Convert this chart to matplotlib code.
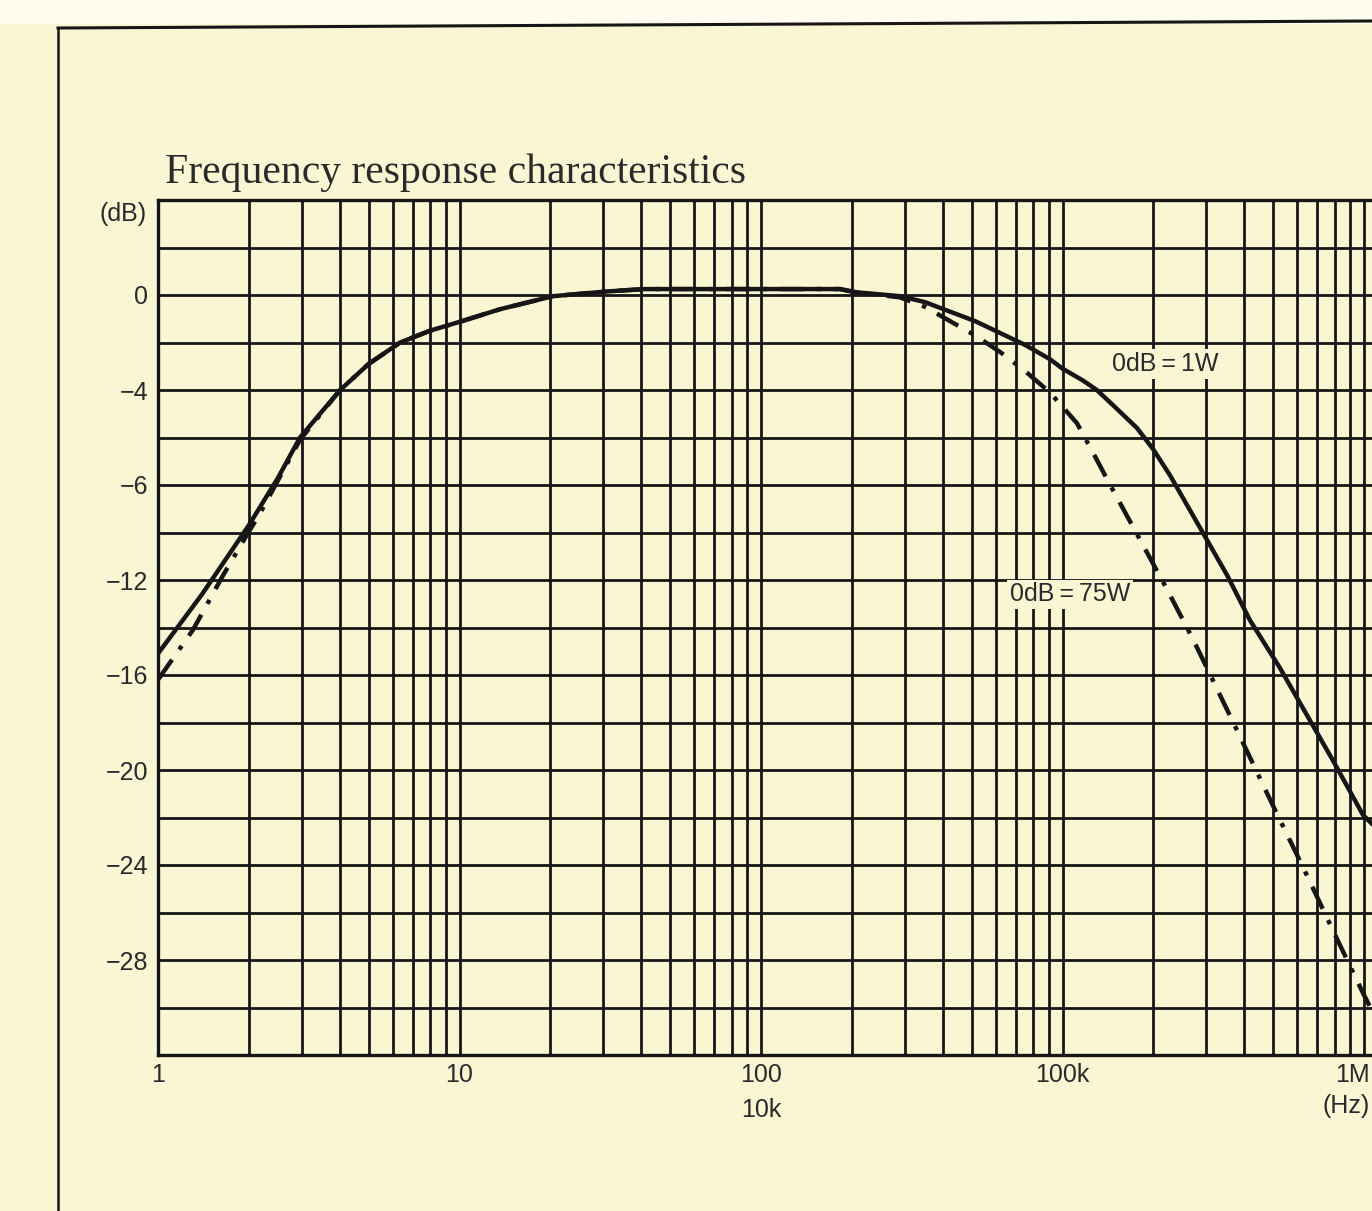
import numpy as np
import matplotlib
matplotlib.use("Agg")
import matplotlib.pyplot as plt
import matplotlib.transforms as mtransforms
from matplotlib.ticker import LogLocator, NullFormatter, FixedLocator
from matplotlib.lines import Line2D
from matplotlib.patches import Rectangle

# ---- data (x = position on the printed log scale: 1 ... 10^4, where 100 = 10k, 1000 = 100k, 10^4 = 1M)
freq_1w = [1.0, 1.4, 2.0, 2.5, 2.958, 3.5, 4.018, 5.0, 6.353, 8.0, 10.19, 13.61, 20.42,
           30.83, 41.21, 91.8, 182.8, 205.1, 289.1, 350, 423.6, 513, 620.9, 751, 907.8,
           1000, 1169, 1300, 1517, 1766, 2000, 2275, 2858, 3516, 4188, 5260, 7889, 9931, 11300]
db_1w = [-15.1, -12.6, -9.7, -7.7, -6.0, -4.9, -4.0, -2.9, -2.0, -1.5, -1.1, -0.6, -0.05,
         0.15, 0.25, 0.25, 0.25, 0.12, -0.05, -0.3, -0.7, -1.1, -1.6, -2.1, -2.7,
         -3.1, -3.6, -4.0, -4.8, -5.6, -6.5, -7.6, -9.8, -11.8, -13.7, -15.7, -19.6, -21.9, -22.6]

freq_75w = [1.0, 1.306, 1.644, 1.972, 2.178, 2.958, 4.018, 5.0, 6.353, 8.0, 10.19, 13.61,
            20.42, 30.83, 41.21, 91.8, 182.8, 205.1, 289.1, 350, 423.6, 513, 620.9, 751,
            907.8, 1117, 1270, 1439, 1807, 2223, 2710, 3013, 3882, 4989, 6281, 8128, 9931, 11300]
db_75w = [-16.2, -14.1, -11.8, -10.1, -9.2, -6.1, -4.0, -2.9, -2.0, -1.5, -1.1, -0.6,
          -0.05, 0.15, 0.25, 0.25, 0.25, 0.12, -0.1, -0.5, -1.1, -1.7, -2.4, -3.2,
          -4.1, -5.4, -6.7, -8.0, -10.3, -12.4, -14.5, -15.7, -18.6, -21.5, -24.1, -27.1, -29.4, -30.8]

x_tick_pos = [1, 10, 100, 1000, 10000]
x_tick_labels = ["1", "10", "100", "100k", "1M"]
y_tick_pos = [0, -4, -8, -12, -16, -20, -24, -28]
y_tick_labels = ["0", "\u22124", "\u22126", "\u221212", "\u221216", "\u221220", "\u221224", "\u221228"]

title = "Frequency response characteristics"
label_1w = "0dB\u2009=\u20091W"
label_75w = "0dB\u2009=\u200975W"

# ---- style
paper = "#faf6d4"
ink = "#161616"
txt = "#2a2a2a"
W, H = 1372, 1211
plt.rcParams['font.family'] = ['Liberation Sans', 'DejaVu Sans']

fig = plt.figure(figsize=(W / 100, H / 100), dpi=100, facecolor=paper)

# lighter strip above the frame
fig.add_artist(Rectangle((0, 1 - 24 / H), 1, 24 / H, transform=fig.transFigure,
                         facecolor="#fdfcee", edgecolor="none", zorder=0))
# outer frame lines
fig.add_artist(Line2D([58 / W, 1], [1 - 28 / H, 1 - 21 / H], transform=fig.transFigure,
                      color=ink, lw=2.2))
fig.add_artist(Line2D([58 / W, 58 / W], [0, 1 - 28 / H], transform=fig.transFigure,
                      color=ink, lw=1.8))

left, right, top, bottom = 158, 1380, 200, 1055
ax = fig.add_axes([left / W, 1 - bottom / H, (right - left) / W, (bottom - top) / H])
ax.set_facecolor(paper)
ax.set_xscale("log")
ax.set_xlim(1, 10 ** ((right - left) / 301.5))
ax.set_ylim(-32, 4)

ax.xaxis.set_major_locator(FixedLocator(x_tick_pos))
ax.set_xticklabels(x_tick_labels)
ax.xaxis.set_minor_locator(LogLocator(base=10, subs=np.arange(2, 10), numticks=20))
ax.xaxis.set_minor_formatter(NullFormatter())
ax.set_yticks(y_tick_pos)
ax.set_yticklabels(y_tick_labels)
ax.yaxis.set_minor_locator(FixedLocator(np.arange(-32, 5, 2)))

ax.tick_params(which="both", length=0)
ax.tick_params(axis="x", pad=6, labelsize=18, colors=txt)
ax.tick_params(axis="y", pad=7, labelsize=18, colors=txt)

# keep the last x label ("1M") inside the picture
last = ax.get_xticklabels()[-1]
last.set_horizontalalignment("right")
last.set_transform(last.get_transform() +
                   mtransforms.ScaledTranslation(6 / 100, 0, fig.dpi_scale_trans))

ax.grid(which="both", axis="both", color=ink, lw=2.0)
ax.set_axisbelow(True)
for s in ax.spines.values():
    s.set_color(ink)
    s.set_linewidth(2.4)

ax.plot(freq_1w, db_1w, color=ink, lw=3.2, solid_capstyle="round", zorder=5)
ax.plot(freq_75w, db_75w, color=ink, lw=3.2, dashes=(5.5, 2.8, 1.0, 2.8), zorder=5)

box = dict(facecolor=paper, edgecolor="none", pad=2)
ax.text(2188, -2.9, label_1w, fontsize=18, ha="center", va="center", color=txt,
        bbox=box, zorder=4)
ax.text(1059, -12.6, label_75w, fontsize=18, ha="center", va="center", color=txt,
        bbox=box, zorder=4)

# extra axis texts
ax.text(100, -33.8, "10k", fontsize=18, ha="center", va="top", color=txt, clip_on=False)
ax.text(1370 / W, 1 - 1094 / H, "(Hz)", fontsize=18, ha="right", va="top", color=txt,
        transform=fig.transFigure)
ax.text(0.92, 3.4, "(dB)", fontsize=18, ha="right", va="center", color=txt, clip_on=False)

fig.text(165 / W, 1 - 173 / H, title, fontsize=30, family="Liberation Serif",
         ha="left", va="center", color=txt)

fig.savefig("out.png", dpi=100, facecolor=paper)
